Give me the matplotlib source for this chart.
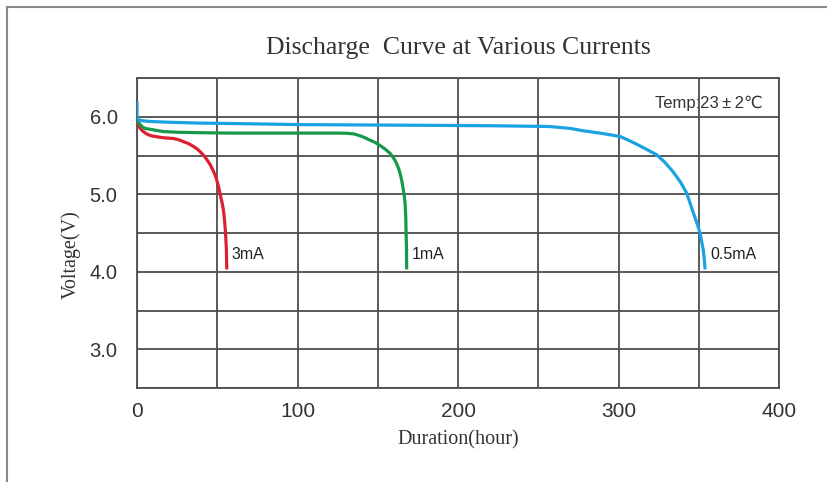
import matplotlib.pyplot as plt
from matplotlib.lines import Line2D

hours_3ma = [0, 0.8, 1.9, 3.9, 5.5, 7, 8.6, 10.2, 13, 16.4, 19.5, 22.6, 25.8, 28.9, 32, 35, 37.8, 40.3, 42,
             43.4, 45.4, 47.1, 48.4, 49.6, 50.9, 52.1, 53, 53.8, 54.5, 55, 55.4, 55.7, 55.9]
volts_3ma = [5.96, 5.91, 5.85, 5.81, 5.785, 5.77, 5.757, 5.75, 5.74, 5.73, 5.725, 5.72, 5.705, 5.68, 5.655,
             5.62, 5.58, 5.53, 5.49, 5.45, 5.39, 5.32, 5.26, 5.19, 5.09, 4.97, 4.89, 4.80, 4.67, 4.54, 4.40, 4.28, 4.03]

hours_1ma = [0, 0.9, 1.9, 3.4, 5, 8, 12, 16.4, 21, 26.8, 40, 57.9, 99.5, 125, 130.6, 135, 139, 142, 145, 148.3,
             151.4, 154.5, 157.6, 159.8, 161.7, 163, 163.9, 165, 165.9, 166.5, 167, 167.4, 167.6, 167.9, 168]
volts_1ma = [5.96, 5.93, 5.90, 5.87, 5.85, 5.84, 5.825, 5.81, 5.805, 5.80, 5.795, 5.79, 5.79, 5.79, 5.788,
             5.78, 5.755, 5.73, 5.70, 5.67, 5.63, 5.585, 5.53, 5.47, 5.40, 5.33, 5.27, 5.17, 5.06, 4.98, 4.89,
             4.72, 4.54, 4.30, 4.03]

hours_05ma = [0, 0, 0, 1.5, 3, 8, 20, 37, 70, 99.5, 140, 182.6, 220, 257, 270, 278, 290, 301, 306, 311, 317,
              323.8, 329, 334, 338.5, 342.5, 346.6, 349, 350.8, 352.8, 353.5, 353.9]
volts_05ma = [6.20, 5.96, 5.97, 5.96, 5.95, 5.94, 5.93, 5.92, 5.91, 5.90, 5.895, 5.89, 5.885, 5.875, 5.85,
              5.82, 5.785, 5.746, 5.70, 5.65, 5.585, 5.51, 5.41, 5.29, 5.16, 5.015, 4.76, 4.62, 4.50, 4.28,
              4.15, 4.03]

series = [
    ("3mA", hours_3ma, volts_3ma, "#dc2030", 59),
    ("1mA", hours_1ma, volts_1ma, "#16994a", 171),
    ("0.5mA", hours_05ma, volts_05ma, "#1aa3e3", 357),
]

sans = ["Liberation Sans Narrow", "Liberation Sans", "DejaVu Sans"]
serif = ["Liberation Serif", "DejaVu Serif"]

fig = plt.figure(figsize=(8.27, 4.82), dpi=100)
ax = fig.add_axes([0.1657, 0.195, 0.7763, 0.643])

for name, x, y, color, lx in series:
    ax.plot(x, y, color=color, lw=2.3, solid_capstyle="butt", solid_joinstyle="round", zorder=3)
    ax.text(lx, 4.22, name, fontsize=11.5, color="#222222", family=["Liberation Sans", "DejaVu Sans"],
            ha="left", va="center")

ax.text(390, 6.18, "Temp:23\u2009\u00b1\u20092\u2103", fontsize=12, color="#333333", ha="right", va="center",
        family=["Liberation Sans", "DejaVu Sans"])

ax.set_xlim(0, 400)
ax.set_ylim(2.5, 6.5)
ax.set_xticks([0, 100, 200, 300, 400])
ax.set_xticks(range(0, 401, 50), minor=True)
ax.set_yticks([3, 4, 5, 6])
ax.set_yticklabels(["3.0", "4.0", "5.0", "6.0"])
ax.set_yticks([2.5 + 0.5 * i for i in range(9)], minor=True)
ax.grid(True, which="both", color="#4d4d4d", lw=1.3)
ax.set_axisbelow(True)
ax.tick_params(which="both", length=0)
ax.tick_params(axis="x", pad=10, labelsize=15, labelcolor="#333333")
ax.tick_params(axis="y", pad=14, labelsize=14.5, labelcolor="#333333")
for lab in ax.get_xticklabels():
    lab.set_family(sans)
for lab in ax.get_yticklabels():
    lab.set_family(["Liberation Sans", "DejaVu Sans"])
for s in ax.spines.values():
    s.set_color("#4d4d4d")
    s.set_linewidth(1.3)

ax.set_title("Discharge  Curve at Various Currents", family=serif, fontsize=18.5, color="#333333", pad=17)
ax.set_xlabel("Duration(hour)", family=serif, fontsize=14.5, color="#333333", labelpad=7)
ax.set_ylabel("Voltage(V)", family=serif, fontsize=14.5, color="#333333")
ax.yaxis.set_label_coords(-0.088, 0.43)

# frame of the screenshot: top and left edges
fig.add_artist(Line2D([7 / 827, 1], [1 - 7 / 482, 1 - 7 / 482], color="#888888", lw=1.5))
fig.add_artist(Line2D([7 / 827, 7 / 827], [0, 1 - 7 / 482], color="#888888", lw=1.5))

plt.savefig("out.png", dpi=100)
